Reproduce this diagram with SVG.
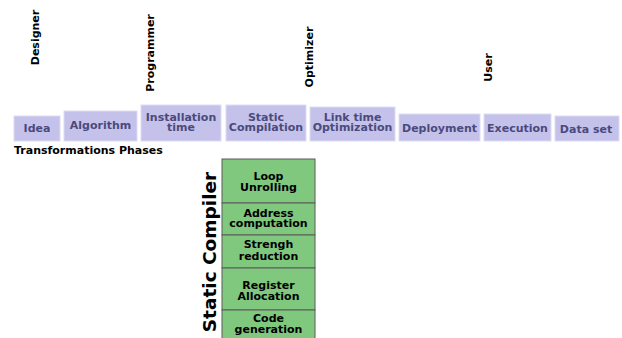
<svg xmlns="http://www.w3.org/2000/svg" width="622" height="338" viewBox="0 0 622 338">
<style>
text{font-family:"DejaVu Sans",sans-serif;font-weight:bold;font-size:11px;text-anchor:middle}
.ph rect{fill:#c4c2eb;stroke:#dddbf4;stroke-width:1}
.ph text{fill:#4b4a7c}
.role{fill:#000}
.st rect{fill:#80c87e;stroke:#5a5a5a;stroke-width:1}
.st text{fill:#000}
</style>
<rect width="622" height="338" fill="#fff"/>
<g id="roles">
<text class="role" transform="translate(39,37.5) rotate(-90)">Designer</text>
<text class="role" transform="translate(154,53) rotate(-90)">Programmer</text>
<text class="role" transform="translate(313,57) rotate(-90)">Optimizer</text>
<text class="role" transform="translate(492,67.5) rotate(-90)">User</text>
</g>
<g id="idea" class="ph"><rect x="14" y="116" width="46" height="25"/><text x="37" y="132">Idea</text></g>
<g id="algorithm" class="ph"><rect x="64" y="111" width="73" height="30"/><text x="100.5" y="129">Algorithm</text></g>
<g id="installation" class="ph"><rect x="141" y="105" width="80" height="36"/><text x="181" y="121">Installation</text><text x="181" y="131">time</text></g>
<g id="static-compilation" class="ph"><rect x="226" y="105" width="80" height="36"/><text x="266" y="121">Static</text><text x="266" y="131">Compilation</text></g>
<g id="link-time" class="ph"><rect x="310" y="107" width="85" height="34"/><text x="352.5" y="120.5">Link time</text><text x="352.5" y="131">Optimization</text></g>
<g id="deployment" class="ph"><rect x="399" y="114" width="81" height="27"/><text x="439.5" y="131.5">Deployment</text></g>
<g id="execution" class="ph"><rect x="484" y="114" width="67" height="27"/><text x="517.5" y="131.5">Execution</text></g>
<g id="dataset" class="ph"><rect x="555" y="116" width="64" height="25"/><text x="586" y="132.5">Data set</text></g>
<text x="14" y="154" style="text-anchor:start">Transformations Phases</text>
<text transform="translate(216,252) rotate(-90)" style="font-size:18.5px">Static Compiler</text>
<g id="static-compiler" class="st">
<g id="loop"><rect x="222" y="159" width="93" height="44"/><text x="268.5" y="180">Loop</text><text x="268.5" y="191">Unrolling</text></g>
<g id="address"><rect x="222" y="203" width="93" height="32"/><text x="268.5" y="216.5">Address</text><text x="268.5" y="227">computation</text></g>
<g id="strengh"><rect x="222" y="235" width="93" height="33"/><text x="268.5" y="248">Strengh</text><text x="268.5" y="259.5">reduction</text></g>
<g id="register"><rect x="222" y="268" width="93" height="42"/><text x="268.5" y="289">Register</text><text x="268.5" y="300">Allocation</text></g>
<g id="codegen"><rect x="222" y="310" width="93" height="30"/><text x="268.5" y="322">Code</text><text x="268.5" y="333">generation</text></g>
</g>
<g id="connectors"></g>
</svg>
